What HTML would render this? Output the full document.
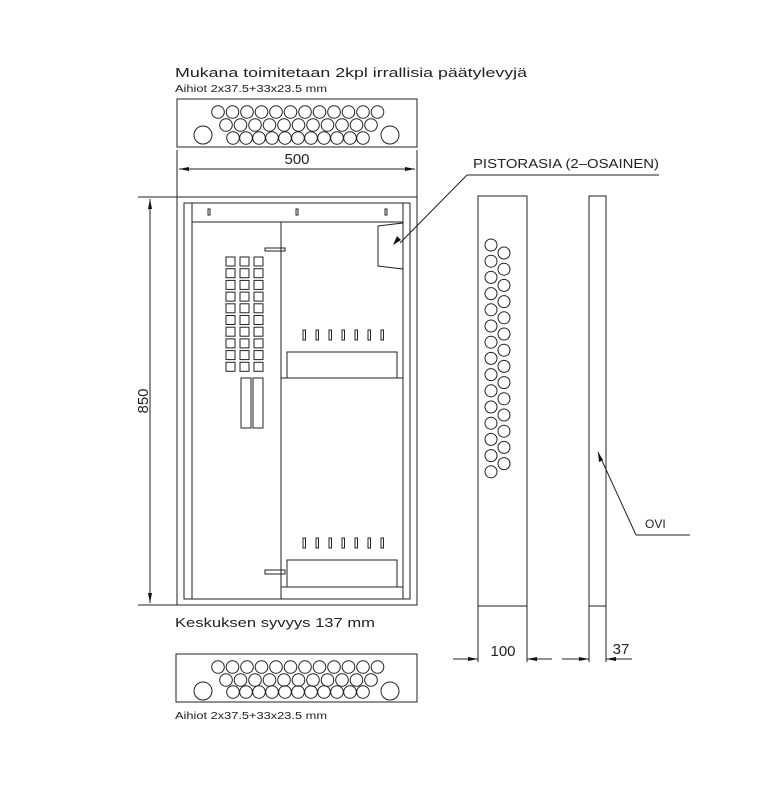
<!DOCTYPE html>
<html><head><style>body{margin:0;background:#fff}svg{display:block}text{font-family:"Liberation Sans",sans-serif;fill:#222}</style></head><body>
<svg width="776" height="800" viewBox="0 0 776 800" xmlns="http://www.w3.org/2000/svg">
<g stroke="#222" fill="none" stroke-width="1">
<text x="175" y="77" font-size="13" textLength="352" lengthAdjust="spacingAndGlyphs" stroke="none">Mukana toimitetaan 2kpl irrallisia päätylevyjä</text>
<text x="175" y="92" font-size="10" textLength="152" lengthAdjust="spacingAndGlyphs" stroke="none">Aihiot 2x37.5+33x23.5 mm</text>
<rect x="177" y="99" width="240" height="48"/>
<g id="holes1"></g>
<line x1="177" y1="150" x2="177" y2="202"/><line x1="417" y1="150" x2="417" y2="202"/>
<line x1="179" y1="169" x2="415" y2="169"/>
<path d="M179,169 l10,-2 v4z M415,169 l-10,-2 v4z" fill="#111" stroke="none"/>
<text x="297" y="164" font-size="15" text-anchor="middle" stroke="none">500</text>
<rect x="177" y="197" width="240" height="408"/>
<rect x="184" y="203" width="226" height="396"/>
<line x1="192" y1="203" x2="192" y2="599"/><line x1="403" y1="203" x2="403" y2="599"/>
<line x1="192" y1="222" x2="403" y2="222"/>
<rect x="208" y="209" width="2" height="6"/><rect x="296" y="209" width="2" height="6"/><rect x="385" y="209" width="2" height="6"/>
<line x1="281" y1="222" x2="281" y2="599"/>
<rect x="265" y="248" width="20" height="3"/>
<rect x="265" y="570" width="20" height="4"/>
<path d="M378,226 L403,223 V269 L378,266Z"/>
<line x1="400" y1="243" x2="467" y2="175"/>
<path d="M393,245 l4,-9 l4,4z" fill="#111" stroke="none"/>
<line x1="467" y1="175" x2="659" y2="175"/>
<text x="473" y="168" font-size="13" textLength="186" lengthAdjust="spacingAndGlyphs" stroke="none">PISTORASIA (2–OSAINEN)</text>
<g id="grid"></g>
<rect x="241" y="378" width="10" height="50"/><rect x="253" y="378" width="10" height="50"/>
<rect x="287" y="352" width="110" height="26"/><line x1="281" y1="378" x2="403" y2="378"/>
<rect x="287" y="560" width="110" height="27"/><line x1="281" y1="587" x2="403" y2="587"/>
<g id="slots"></g>
<line x1="138" y1="197" x2="177" y2="197"/><line x1="138" y1="605" x2="177" y2="605"/>
<line x1="150" y1="199" x2="150" y2="603"/>
<path d="M150,199 l-2,10 h4z M150,603 l-2,-10 h4z" fill="#111" stroke="none"/>
<text transform="translate(148,401) rotate(-90)" font-size="15" text-anchor="middle" stroke="none">850</text>
<text x="175" y="627" font-size="13" textLength="200" lengthAdjust="spacingAndGlyphs" stroke="none">Keskuksen syvyys 137 mm</text>
<rect x="478" y="196" width="49" height="410"/>
<line x1="478" y1="606" x2="478" y2="662"/><line x1="527" y1="606" x2="527" y2="662"/>
<line x1="453" y1="659" x2="478" y2="659"/><line x1="527" y1="659" x2="552" y2="659"/>
<path d="M478,659 l-10,-2 v4z M527,659 l10,-2 v4z" fill="#111" stroke="none"/>
<text x="503" y="656" font-size="15" text-anchor="middle" stroke="none">100</text>
<g id="side"></g>
<rect x="589" y="196" width="17" height="410"/>
<line x1="589" y1="606" x2="589" y2="662"/><line x1="606" y1="606" x2="606" y2="662"/>
<line x1="562" y1="659" x2="589" y2="659"/><line x1="606" y1="659" x2="632" y2="659"/>
<path d="M589,659 l-10,-2 v4z M606,659 l10,-2 v4z" fill="#111" stroke="none"/>
<text x="621" y="654" font-size="15" text-anchor="middle" stroke="none">37</text>
<line x1="598" y1="452" x2="636" y2="535"/><line x1="636" y1="535" x2="690" y2="535"/>
<path d="M598,452 l1,10 l4,-2z" fill="#111" stroke="none"/>
<text x="645" y="528" font-size="12" stroke="none">OVI</text>
<rect x="176" y="654" width="241" height="48"/>
<text x="175" y="719" font-size="10" textLength="152" lengthAdjust="spacingAndGlyphs" stroke="none">Aihiot 2x37.5+33x23.5 mm</text>
<g id="holes2"></g>
</g>
<script>
const NS="http://www.w3.org/2000/svg";
function c(g,x,y,r){const e=document.createElementNS(NS,"circle");e.setAttribute("cx",x);e.setAttribute("cy",y);e.setAttribute("r",r);document.getElementById(g).appendChild(e);}
function r(g,x,y,w,h){const e=document.createElementNS(NS,"rect");e.setAttribute("x",x);e.setAttribute("y",y);e.setAttribute("width",w);e.setAttribute("height",h);document.getElementById(g).appendChild(e);}
function plate(g,y1,y2,y3,by){for(let i=0;i<12;i++)c(g,218+i*14.5,y1,6.3);for(let i=0;i<11;i++)c(g,226+i*14.5,y2,6.3);for(let i=0;i<11;i++)c(g,233+i*13,y3,6.3);c(g,203,by,9);c(g,390,by,9);}
plate("holes1",112,125,138,135);plate("holes2",667,680,692,691);
for(let j=0;j<10;j++)for(let i=0;i<3;i++)r("grid",226+i*14,257+j*11.7,9,9);
for(let i=0;i<7;i++){r("slots",303+i*13,330,2.5,10);r("slots",303+i*13,538,2.5,10);}
for(let i=0;i<15;i++)c("side",491,245+i*16.2,6);for(let i=0;i<14;i++)c("side",504,253+i*16.2,6);
</script>
</svg>
</body></html>
